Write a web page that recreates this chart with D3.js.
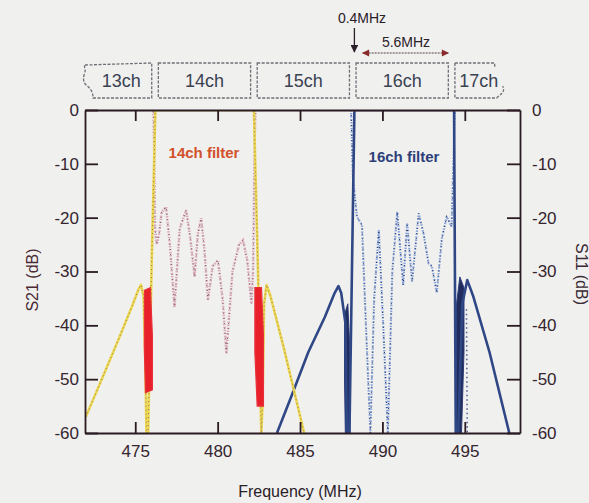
<!DOCTYPE html>
<html>
<head>
<meta charset="utf-8">
<script src="https://cdnjs.cloudflare.com/ajax/libs/d3/7.8.5/d3.min.js"></script>
<style>
  body { margin: 0; background: #f0f0ef; }
  svg { font-family: "Liberation Sans", Arial, sans-serif; }
  .axis path, .axis line { stroke: #2a1a22; stroke-width: 1.8; }
  .axis text { font-size: 17px; fill: #35252e; }
</style>
</head>
<body>
<div id="chart"></div>
<script>
// channel boxes
const channels = ["13ch", "14ch", "15ch", "16ch", "17ch"];
const chStart = [470, 476, 482, 488, 494];

const xTicks = [475, 480, 485, 490, 495];
const yTicks = [0, -10, -20, -30, -40, -50, -60];

// 14ch filter, S21 (yellow) and S11 (pink dots)  [MHz, dB]
const s21_14 = [[472.0, -57], [473.0, -49.8], [474.0, -42.5], [474.8, -36.5], [475.2, -33.3], [475.35, -32.5],
  [475.5, -34.5], [475.6, -45], [475.68, -60], [475.78, -60], [476.0, -28], [476.22, 0], [482.2, 0],
  [482.45, -30], [482.65, -60], [482.72, -55], [482.82, -36], [482.97, -32.5], [483.2, -34.5],
  [484.0, -44], [484.7, -53], [485.25, -60]];
const s11_14 = [[471.95, 0], [476.1, 0], [476.15, -8], [476.2, -22], [476.3, -25], [476.45, -23], [476.6, -19],
  [476.87, -18], [477.1, -25], [477.38, -36.6], [477.7, -22], [478.09, -18.6], [478.35, -24], [478.6, -31],
  [478.8, -23], [479.0, -20.1], [479.2, -26], [479.41, -35.3], [479.7, -29], [480.02, -27.9], [480.3, -35],
  [480.53, -45.2], [480.9, -30], [481.3, -25], [481.54, -24.2], [481.8, -28], [482.05, -36], [482.15, -30],
  [482.25, -5], [482.3, 0], [498.35, 0]];
const notch14 = [
  [[475.56, -33.5], [475.92, -33], [476.04, -42], [476.04, -52], [475.62, -52.5], [475.55, -44]],
  [[482.26, -33], [482.66, -33], [482.78, -42], [482.78, -55], [482.4, -55], [482.26, -45]]
];

// 16ch filter, S21 (solid blue) and S11 (light blue dots)
const s21_16 = [[483.6, -60], [484.5, -53], [485.5, -45], [486.5, -38.5], [487.1, -34], [487.33, -32.7],
  [487.5, -34], [487.75, -39.5], [487.85, -60], [488.0, -60], [488.3, 0], [494.35, 0], [494.45, -60],
  [494.6, -60], [494.85, -36], [495.15, -31.6], [495.5, -34.5], [496.5, -45], [497.7, -60]];
const s11_16 = [[488.1, 0], [488.2, -12], [488.45, -19.8], [488.76, -21.4], [489.0, -40], [489.27, -60],
  [489.5, -35], [489.78, -22.3], [490.05, -40], [490.33, -60], [490.6, -30], [490.9, -18.9], [491.26, -32.5],
  [491.5, -21], [491.8, -31.9], [492.2, -19.2], [492.5, -23], [492.8, -28.5], [493.0, -29], [493.3, -34],
  [493.6, -24], [493.9, -19.8], [494.2, -21.7], [494.35, -5], [494.4, 0]];
const s11_16b = [[495.1, -37], [495.15, -60]];
const notch16 = [
  [[487.7, -38], [487.9, -36], [488.03, -45], [488.03, -60], [487.75, -60], [487.7, -50]],
  [[494.5, -36], [494.7, -31], [494.95, -33], [494.95, -45], [494.8, -60], [494.5, -60]]
];

const W = 589, H = 503;
const svg = d3.select("#chart").append("svg")
  .attr("width", W).attr("height", H);

const x = d3.scaleLinear().domain([471.95, 498.35]).range([85, 520]);
const y = d3.scaleLinear().domain([-60, 0]).range([433, 110]);

const line = d3.line().x(d => x(d[0])).y(d => y(d[1]));

// clip for curves
svg.append("clipPath").attr("id", "plot")
  .append("rect").attr("x", 85).attr("y", 111).attr("width", 435).attr("height", 323);
const g = svg.append("g").attr("clip-path", "url(#plot)");

// 16ch filter
g.append("path").datum(s11_16).attr("d", line)
  .attr("fill", "none").attr("stroke", "#86a2d8").attr("stroke-width", 2.2)
  .attr("stroke-dasharray", "1.5,1.5");
g.append("path").datum(s11_16).attr("d", line)
  .attr("fill", "none").attr("stroke", "#2e3f70").attr("stroke-width", 1.2)
  .attr("stroke-dasharray", "1,4");
g.append("path").datum(s11_16b).attr("d", line)
  .attr("fill", "none").attr("stroke", "#4a5f95").attr("stroke-width", 1.5)
  .attr("stroke-dasharray", "1.5,3");
g.selectAll(".n16").data(notch16).enter().append("path")
  .attr("class", "n16")
  .attr("d", d => line(d) + "Z")
  .attr("fill", "#1f2c5c").attr("stroke", "#2c3c78").attr("stroke-width", 1);
g.append("path").datum(s21_16).attr("d", line)
  .attr("fill", "none").attr("stroke", "#2f4785").attr("stroke-width", 2.6)
  .attr("stroke-linejoin", "round");

// 14ch filter
g.append("path").datum(s11_14).attr("d", line)
  .attr("fill", "none").attr("stroke", "#dcaab8").attr("stroke-width", 2.6)
  .attr("stroke-dasharray", "1.5,1.5");
g.append("path").datum(s11_14).attr("d", line)
  .attr("fill", "none").attr("stroke", "#7a5a70").attr("stroke-width", 1.1)
  .attr("stroke-dasharray", "1,4");
g.append("path").datum(s21_14).attr("d", line)
  .attr("fill", "none").attr("stroke", "#ecd84e").attr("stroke-width", 2.6)
  .attr("stroke-linejoin", "round");
g.append("path").datum(s21_14).attr("d", line)
  .attr("fill", "none").attr("stroke", "#9a7070").attr("stroke-width", 1)
  .attr("stroke-dasharray", "1,3");
g.selectAll(".n14").data(notch14).enter().append("path")
  .attr("class", "n14")
  .attr("d", d => line(d) + "Z")
  .attr("fill", "#e8202a").attr("stroke", "#e8303a").attr("stroke-width", 1.2);

// axes, ticks inward
const fmt = d => String(d);
svg.append("g").attr("class", "axis")
  .attr("transform", "translate(0,433)")
  .call(d3.axisBottom(x).tickValues(xTicks).tickSizeInner(-11).tickSizeOuter(0).tickPadding(12).tickFormat(fmt));
svg.append("g").attr("class", "axis")
  .attr("transform", "translate(0,110)")
  .call(d3.axisTop(x).tickValues(xTicks).tickSizeInner(-11).tickSizeOuter(0).tickFormat(""));
svg.append("g").attr("class", "axis")
  .attr("transform", "translate(85,0)")
  .call(d3.axisLeft(y).tickValues(yTicks).tickSizeInner(-13).tickSizeOuter(0).tickPadding(6).tickFormat(fmt));
svg.append("g").attr("class", "axis")
  .attr("transform", "translate(520,0)")
  .call(d3.axisRight(y).tickValues(yTicks).tickSizeInner(-13).tickSizeOuter(0).tickPadding(12).tickFormat(fmt));

svg.selectAll(".axis .domain").attr("stroke", "#2a1a22");

// axis titles
svg.append("text").attr("x", 300).attr("y", 497).attr("text-anchor", "middle")
  .attr("font-size", 16).attr("fill", "#2a2028").text("Frequency (MHz)");
svg.append("text").attr("transform", "translate(38,280) rotate(-90)")
  .attr("text-anchor", "middle").attr("font-size", 16).attr("fill", "#4a2a34").text("S21 (dB)");
svg.append("text").attr("transform", "translate(576,274) rotate(90)")
  .attr("text-anchor", "middle").attr("font-size", 16).attr("fill", "#3a2a34").text("S11 (dB)");

// filter labels
svg.append("text").attr("x", 204).attr("y", 158).attr("text-anchor", "middle")
  .attr("font-size", 15).attr("font-weight", "bold").attr("fill", "#d2502a").text("14ch filter");
svg.append("text").attr("x", 404).attr("y", 162).attr("text-anchor", "middle")
  .attr("font-size", 15).attr("font-weight", "bold").attr("fill", "#2d3f78").text("16ch filter");

// channel boxes
const boxTop = 63, boxBot = 98;
const boxes = svg.append("g");
channels.forEach(function(c, i) {
  let x0 = x(Math.max(chStart[i] + 0.4, 471.95));
  let x1 = x(Math.min(chStart[i] + 6, 497.3));
  let p;
  if (i === 0) {
    p = `M${x0},${boxTop + 2} L${x1},${boxTop} L${x1},${boxBot} L${x0 + 8},${boxBot}` +
        ` C${x0 + 8},${boxBot - 14} ${x0 - 4},${boxBot - 10} ${x0 - 1},${boxTop + 12}` +
        ` C${x0 + 2},${boxTop + 6} ${x0 - 2},${boxTop + 4} ${x0},${boxTop + 2}Z`;
  } else if (i === channels.length - 1) {
    p = `M${x0},${boxTop} L${x1 - 8},${boxTop} L${x1 - 8},${boxTop + 5} M${x0},${boxTop}` +
        ` L${x0},${boxBot} L${x1 - 6},${boxBot}` +
        ` C${x1 - 2},${boxBot - 4} ${x1 + 3},${boxBot - 6} ${x1},${boxBot - 12}`;
  } else {
    p = `M${x0},${boxTop} L${x1},${boxTop} L${x1},${boxBot} L${x0},${boxBot}Z`;
  }
  boxes.append("path").attr("d", p)
    .attr("fill", "none").attr("stroke", "#6e6e76").attr("stroke-width", 1.3)
    .attr("stroke-dasharray", "3,1.5");
  let cx = (i === 0) ? (x0 + x1) / 2 + 3 : (x0 + x1) / 2;
  boxes.append("text").attr("x", cx).attr("y", 87).attr("text-anchor", "middle")
    .attr("font-size", 18).attr("fill", "#3a4252").text(c);
});

// annotation arrows
const defs = svg.append("defs");
defs.append("marker").attr("id", "ah").attr("viewBox", "0 0 10 10")
  .attr("refX", 9).attr("refY", 5).attr("markerWidth", 7).attr("markerHeight", 6)
  .attr("orient", "auto-start-reverse")
  .append("path").attr("d", "M0,0 L10,5 L0,10Z").attr("fill", "#8a2a2a");
defs.append("marker").attr("id", "ahd").attr("viewBox", "0 0 10 10")
  .attr("refX", 9).attr("refY", 5).attr("markerWidth", 6).attr("markerHeight", 6)
  .attr("orient", "auto")
  .append("path").attr("d", "M0,0 L10,5 L0,10Z").attr("fill", "#2a2028");

svg.append("line").attr("x1", x(488.3)).attr("x2", x(488.3)).attr("y1", 28).attr("y2", 52)
  .attr("stroke", "#2a2028").attr("stroke-width", 1.3).attr("marker-end", "url(#ahd)");
svg.append("text").attr("x", 362).attr("y", 23).attr("text-anchor", "middle")
  .attr("font-size", 14).attr("fill", "#2a2028").text("0.4MHz");
svg.append("line").attr("x1", x(488.8)).attr("x2", x(494.0)).attr("y1", 53).attr("y2", 53)
  .attr("stroke", "#5a4048").attr("stroke-width", 1.2).attr("stroke-dasharray", "2,1")
  .attr("marker-start", "url(#ah)").attr("marker-end", "url(#ah)");
svg.append("text").attr("x", 406).attr("y", 47).attr("text-anchor", "middle")
  .attr("font-size", 14).attr("fill", "#2a2028").text("5.6MHz");
</script>
</body>
</html>
